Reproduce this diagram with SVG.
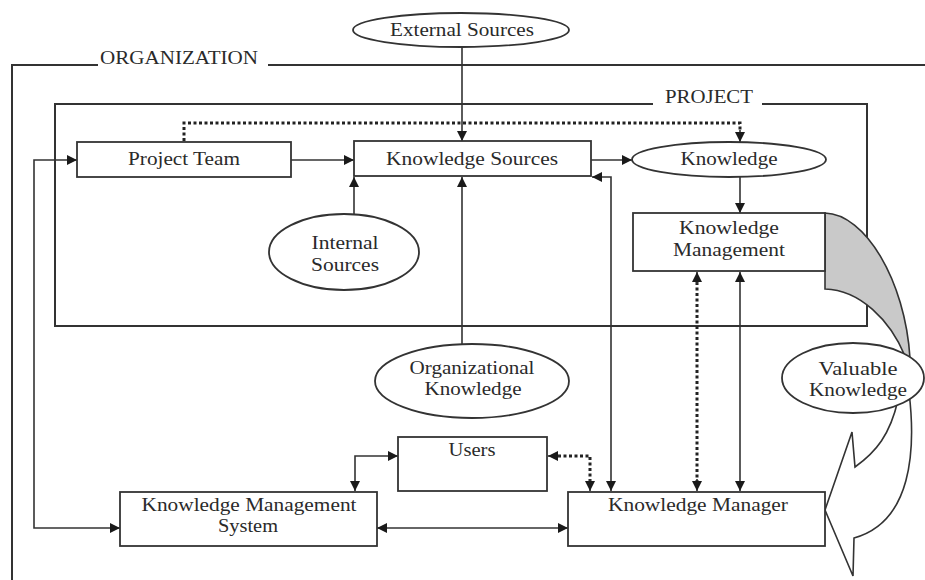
<svg xmlns="http://www.w3.org/2000/svg" width="925" height="580" viewBox="0 0 925 580">
  <style>
    .frame { fill: none; stroke: #333; stroke-width: 2; }
    .box { fill: #fff; stroke: #333; stroke-width: 1.8; }
    .oval { fill: #fff; stroke: #333; stroke-width: 1.8; }
    .label { font-family: "Liberation Serif", "Times New Roman", serif; font-size: 18px; fill: #2a2a2a; text-anchor: middle; }
    .tag { font-family: "Liberation Serif", "Times New Roman", serif; font-size: 18px; fill: #2a2a2a; }
    .link { fill: none; stroke: #333; stroke-width: 1.6; }
    .dots { fill: none; stroke: #222; stroke-width: 3; stroke-dasharray: 3 2.5; }
    .flow-gray { fill: #c9c9c9; stroke: #333; stroke-width: 1.6; }
    .flow-white { fill: #fff; stroke: #333; stroke-width: 1.6; }
  </style>
  <defs>
    <marker id="arrow" viewBox="0 0 10 10" refX="10" refY="5" markerWidth="11" markerHeight="10" markerUnits="userSpaceOnUse" orient="auto-start-reverse">
      <path d="M0,0 L10,5 L0,10 Z" fill="#1a1a1a"/>
    </marker>
  </defs>

  <rect width="925" height="580" fill="#fff"/>

  <!-- Organization frame -->
  <g id="organization">
    <path class="frame" d="M98,65 H12 V580 M268,65 H925"/>
    <text class="tag" x="100" y="64" textLength="158" lengthAdjust="spacingAndGlyphs">ORGANIZATION</text>
  </g>

  <!-- Project frame -->
  <g id="project">
    <path class="frame" d="M653,104 H55 V326 H867 V104 H762"/>
    <text class="tag" x="665" y="103" textLength="88" lengthAdjust="spacingAndGlyphs">PROJECT</text>
  </g>

  <!-- Valuable knowledge flow: shaded band and returning arrow -->
  <g id="valuable-flow">
    <path class="flow-gray" d="M825,213 C865,214 905,280 910,358 L905,356 C890,320 860,290 825,289 Z"/>
    <path class="flow-white" d="M909,392 C916,450 912,522 854,538 L853,576 L825,510 L852,432 L855,467 C876,452 890,435 898,400 Z"/>
  </g>

  <!-- Connectors -->
  <g id="connectors">
    <line class="link" x1="462" y1="47" x2="462" y2="141" marker-end="url(#arrow)"/>
    <line class="link" x1="291" y1="160" x2="354" y2="160" marker-end="url(#arrow)"/>
    <line class="link" x1="591" y1="160" x2="632" y2="160" marker-end="url(#arrow)"/>
    <line class="link" x1="740" y1="177" x2="740" y2="213" marker-end="url(#arrow)"/>
    <path class="dots" d="M184,141 V123 H740 V132"/>
    <line class="link" x1="740" y1="130" x2="740" y2="142" marker-end="url(#arrow)"/>
    <line class="link" x1="354" y1="214" x2="354" y2="177" marker-end="url(#arrow)"/>
    <line class="link" x1="462" y1="344" x2="462" y2="177" marker-end="url(#arrow)"/>
    <path class="link" d="M611,491 V177 H592" marker-start="url(#arrow)" marker-end="url(#arrow)"/>
    <path class="dots" d="M697,282 V481"/>
    <line class="link" x1="697" y1="284" x2="697" y2="272" marker-end="url(#arrow)"/>
    <line class="link" x1="697" y1="479" x2="697" y2="491" marker-end="url(#arrow)"/>
    <line class="link" x1="740" y1="272" x2="740" y2="491" marker-start="url(#arrow)" marker-end="url(#arrow)"/>
    <path class="link" d="M355,491 V456 H398" marker-start="url(#arrow)" marker-end="url(#arrow)"/>
    <path class="dots" d="M558,456 H590 V481"/>
    <line class="link" x1="560" y1="456" x2="548" y2="456" marker-end="url(#arrow)"/>
    <line class="link" x1="590" y1="479" x2="590" y2="491" marker-end="url(#arrow)"/>
    <line class="link" x1="377" y1="528" x2="568" y2="528" marker-start="url(#arrow)" marker-end="url(#arrow)"/>
    <path class="link" d="M77,160 H34 V528 H120" marker-start="url(#arrow)" marker-end="url(#arrow)"/>
  </g>

  <!-- Nodes -->
  <g id="external-sources">
    <ellipse class="oval" cx="461" cy="30" rx="108" ry="17"/>
    <text class="label" x="462" y="36" textLength="144" lengthAdjust="spacingAndGlyphs">External Sources</text>
  </g>

  <g id="project-team">
    <rect class="box" x="77" y="142" width="214" height="35"/>
    <text class="label" x="184" y="165" textLength="112" lengthAdjust="spacingAndGlyphs">Project Team</text>
  </g>

  <g id="knowledge-sources">
    <rect class="box" x="354" y="141" width="237" height="35"/>
    <text class="label" x="472" y="165" textLength="172" lengthAdjust="spacingAndGlyphs">Knowledge Sources</text>
  </g>

  <g id="knowledge">
    <ellipse class="oval" cx="729" cy="159.5" rx="97" ry="17.5"/>
    <text class="label" x="729" y="165" textLength="97" lengthAdjust="spacingAndGlyphs">Knowledge</text>
  </g>

  <g id="knowledge-management">
    <rect class="box" x="633" y="213" width="192" height="58"/>
    <text class="label" x="729" y="234" textLength="100" lengthAdjust="spacingAndGlyphs">Knowledge</text>
    <text class="label" x="729" y="256" textLength="112" lengthAdjust="spacingAndGlyphs">Management</text>
  </g>

  <g id="internal-sources">
    <ellipse class="oval" cx="344" cy="252" rx="75" ry="38"/>
    <text class="label" x="345" y="249" textLength="67" lengthAdjust="spacingAndGlyphs">Internal</text>
    <text class="label" x="345" y="271" textLength="68" lengthAdjust="spacingAndGlyphs">Sources</text>
  </g>

  <g id="organizational-knowledge">
    <ellipse class="oval" cx="472" cy="381" rx="97" ry="37"/>
    <text class="label" x="472" y="374" textLength="125" lengthAdjust="spacingAndGlyphs">Organizational</text>
    <text class="label" x="473" y="395" textLength="97" lengthAdjust="spacingAndGlyphs">Knowledge</text>
  </g>

  <g id="valuable-knowledge">
    <ellipse class="oval" cx="853" cy="378" rx="71" ry="35"/>
    <text class="label" x="858" y="375" textLength="79" lengthAdjust="spacingAndGlyphs">Valuable</text>
    <text class="label" x="858" y="396" textLength="98" lengthAdjust="spacingAndGlyphs">Knowledge</text>
  </g>

  <g id="users">
    <rect class="box" x="398" y="437" width="149" height="54"/>
    <text class="label" x="472" y="456" textLength="47" lengthAdjust="spacingAndGlyphs">Users</text>
  </g>

  <g id="knowledge-management-system">
    <rect class="box" x="120" y="492" width="257" height="54"/>
    <text class="label" x="249" y="511" textLength="215" lengthAdjust="spacingAndGlyphs">Knowledge Management</text>
    <text class="label" x="248" y="532" textLength="60" lengthAdjust="spacingAndGlyphs">System</text>
  </g>

  <g id="knowledge-manager">
    <rect class="box" x="568" y="492" width="257" height="54"/>
    <text class="label" x="698" y="511" textLength="180" lengthAdjust="spacingAndGlyphs">Knowledge Manager</text>
  </g>
</svg>
